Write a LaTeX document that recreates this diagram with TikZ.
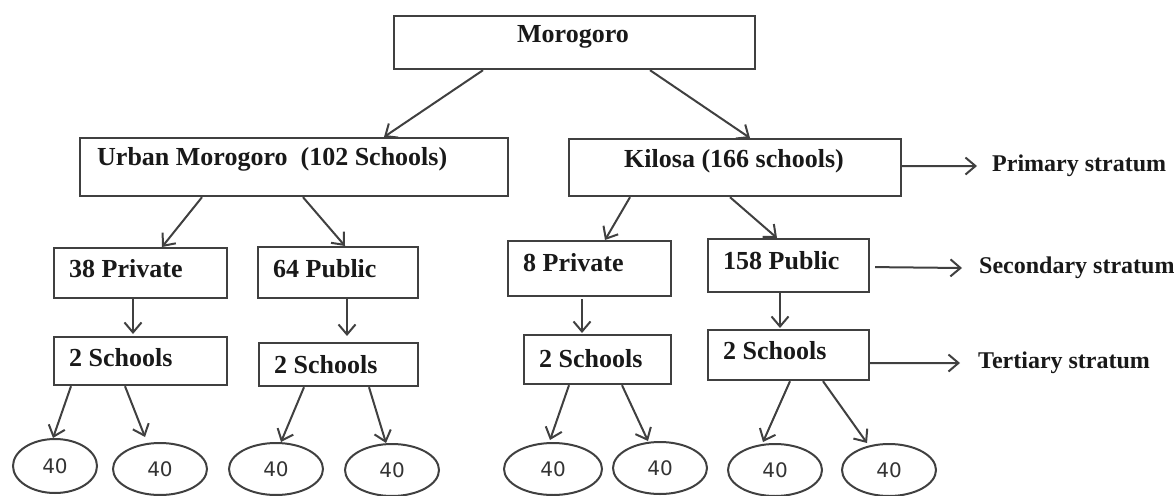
\documentclass[tikz,border=0pt]{standalone}
\usepackage{fontspec}
\setmainfont{Liberation Serif}
\newfontfamily\numfont{DejaVu Sans}
\usetikzlibrary{arrows.meta,shapes.geometric}
\begin{document}
\begin{tikzpicture}[x=1pt,y=-1pt,
  box/.style={draw=black!75, line width=2.2pt, rectangle, inner sep=0pt, anchor=north west},
  lbl/.style={font=\fontsize{26}{30}\selectfont\bfseries, text=black!90, inner sep=0pt},
  strat/.style={font=\fontsize{24}{28}\selectfont\bfseries, text=black!90, inner sep=0pt, anchor=west},
  leaf/.style={draw=black!75, line width=2pt, ellipse, minimum width=94pt, minimum height=52pt, inner sep=0pt, font=\numfont\fontsize{20}{22}\selectfont, text=black!80},
  arr/.style={draw=black!75, line width=2pt, -{Straight Barb[length=10pt,width=17pt]}}
]
\useasboundingbox (0,0) rectangle (1174,495);
% boxes
\node[box, minimum width=361pt, minimum height=53pt] (moro) at (393,15) {};
\node[box, minimum width=428pt, minimum height=58pt] (urban) at (79,137) {};
\node[box, minimum width=332pt, minimum height=57pt] (kilosa) at (568,138) {};
\node[box, minimum width=173pt, minimum height=50pt] (p38) at (53,247) {};
\node[box, minimum width=160pt, minimum height=51pt] (pub64) at (257,246) {};
\node[box, minimum width=163pt, minimum height=55pt] (p8) at (507,240) {};
\node[box, minimum width=161pt, minimum height=53pt] (pub158) at (707,238) {};
\node[box, minimum width=173pt, minimum height=48pt] (s1) at (53,336) {};
\node[box, minimum width=159pt, minimum height=43pt] (s2) at (258,342) {};
\node[box, minimum width=147pt, minimum height=49pt] (s3) at (523,334) {};
\node[box, minimum width=161pt, minimum height=50pt] (s4) at (707,329) {};
% box texts
\node[lbl] (morot) at (573,37) {Morogoro};
\node[lbl, anchor=west] (urbant) at (97,159) {Urban Morogoro\ \ (102 Schools)};
\node[lbl] (kilosat) at (734,161) {Kilosa (166 schools)};
\node[lbl, anchor=west] (p38t) at (69,269) {38 Private};
\node[lbl, anchor=west] (pub64t) at (273,269) {64 Public};
\node[lbl, anchor=west] (p8t) at (523,263) {8 Private};
\node[lbl, anchor=west] (pub158t) at (723,261) {158 Public};
\node[lbl, anchor=west] (s1t) at (69,358) {2 Schools};
\node[lbl, anchor=west] (s2t) at (274,365) {2 Schools};
\node[lbl, anchor=west] (s3t) at (539,359) {2 Schools};
\node[lbl, anchor=west] (s4t) at (723,351) {2 Schools};
% stratum labels
\node[strat] (prim) at (992,166) {Primary stratum};
\node[strat] (sec) at (979,268) {Secondary stratum};
\node[strat] (ter) at (978,363) {Tertiary stratum};
% leaves
\node[leaf, minimum width=84pt, minimum height=54pt] (c1) at (55,466) {40};
\node[leaf] (c2) at (160,469) {40};
\node[leaf] (c3) at (276,469) {40};
\node[leaf] (c4) at (392,470) {40};
\node[leaf, minimum width=98pt] (c5) at (553,469) {40};
\node[leaf] (c6) at (660,468) {40};
\node[leaf] (c7) at (775,470) {40};
\node[leaf] (c8) at (889,470) {40};
% arrows
\draw[arr] ([xshift=90pt]moro.south west) -- ([xshift=305pt]urban.north west);
\draw[arr] ([xshift=257pt]moro.south west) -- ([xshift=182pt]kilosa.north west);
\draw[arr] ([xshift=123pt]urban.south west) -- ([xshift=109pt]p38.north west);
\draw[arr] ([xshift=224pt]urban.south west) -- ([xshift=88pt]pub64.north west);
\draw[arr] ([xshift=62pt]kilosa.south west) -- ([xshift=98pt]p8.north west);
\draw[arr] ([xshift=162pt]kilosa.south west) -- ([xshift=70pt]pub158.north west);
\draw[arr] ([xshift=80pt]p38.south west) -- ([xshift=80pt,yshift=2pt]s1.north west);
\draw[arr] ([xshift=90pt]pub64.south west) -- ([xshift=89pt,yshift=6pt]s2.north west);
\draw[arr] ([xshift=75pt,yshift=-2pt]p8.south west) -- ([xshift=59pt,yshift=1pt]s3.north west);
\draw[arr] ([xshift=73pt]pub158.south west) -- ([xshift=73pt,yshift=1pt]s4.north west);
\draw[arr] ([xshift=18pt]s1.south west) -- ([xshift=-2pt,yshift=28pt]c1.center);
\draw[arr] ([xshift=72pt]s1.south west) -- ([xshift=-15pt,yshift=32pt]c2.center);
\draw[arr] ([xshift=46pt]s2.south west) -- ([xshift=5pt,yshift=27pt]c3.center);
\draw[arr] ([xshift=111pt]s2.south west) -- ([xshift=-6pt,yshift=27pt]c4.center);
\draw[arr] ([xshift=46pt]s3.south west) -- ([xshift=-3pt,yshift=29pt]c5.center);
\draw[arr] ([xshift=99pt]s3.south west) -- ([xshift=-12pt,yshift=27pt]c6.center);
\draw[arr] ([xshift=83pt]s4.south west) -- ([xshift=-12pt,yshift=28pt]c7.center);
\draw[arr] ([xshift=116pt]s4.south west) -- ([xshift=-22pt,yshift=27pt]c8.center);
\draw[arr] ([yshift=1.5pt]kilosa.east) -- ([xshift=-15pt]prim.west);
\draw[arr] ([xshift=5pt,yshift=-1.5pt]pub158.east) -- ([xshift=-17pt]sec.west);
\draw[arr] ([yshift=-8pt]s4.east) -- ([xshift=-18pt]ter.west);
\end{tikzpicture}
\end{document}
